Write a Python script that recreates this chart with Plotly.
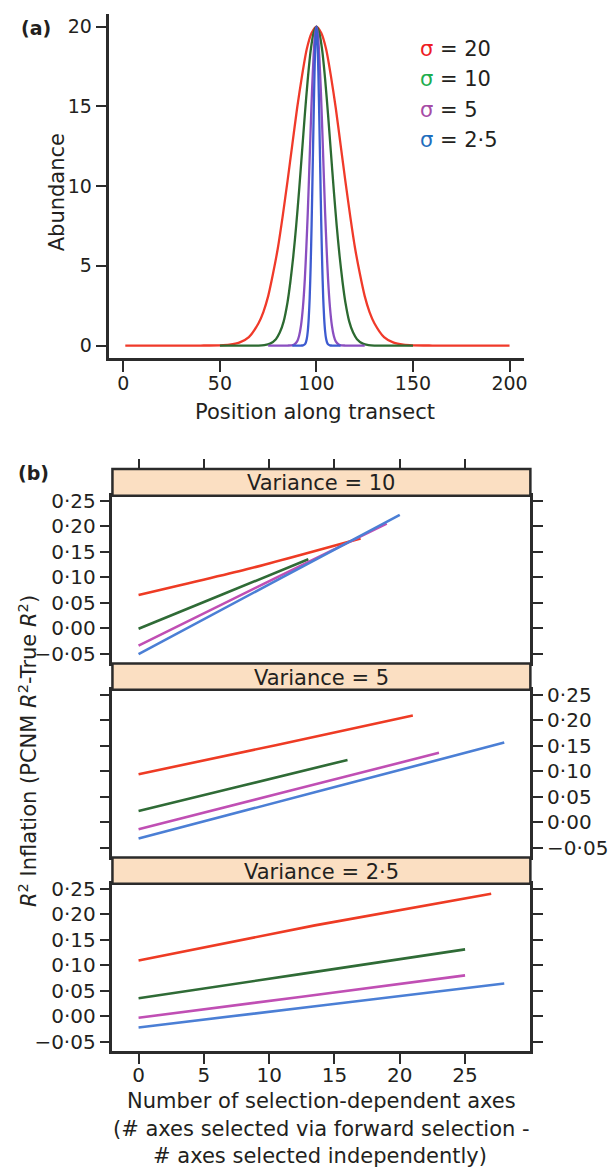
import plotly.graph_objects as go

W, H = 608, 1169
FONT = "DejaVu Sans"
TXT = "#231F20"
AX = "#2B2B2B"

# ---------------- Panel (a) data: abundance profiles (offset from centre -> abundance)
centre = 100
sigma_labels = ["20", "10", "5", "2·5"]
red_offsets = [0, 2.5, 5, 7.5, 10, 12.5, 15, 17.5, 20, 22.5, 25, 27.5, 30, 35, 40, 45, 50, 60]
red_values = [20, 19.6, 18.6, 16.9, 14.9, 12.6, 10.3, 8.1, 6.1, 4.5, 3.1, 2.1, 1.4, 0.53, 0.18, 0.05, 0.01, 0]
red_span = [1, 200]
green_offsets = [0, 1.5, 3, 4.5, 6, 7.5, 9, 10.5, 12, 13.5, 15, 17, 19, 21, 24, 27, 30]
green_values = [20, 19.6, 18.5, 16.7, 14.5, 12.1, 9.7, 7.5, 5.6, 4.0, 2.7, 1.5, 0.81, 0.40, 0.12, 0.03, 0]
green_span = [50, 150]
purple_offsets = [0, 0.75, 1.5, 2.25, 3, 3.75, 4.5, 5.25, 6, 7, 8, 9, 10, 11.5, 13, 15]
purple_values = [20, 19.5, 18.1, 16.1, 13.6, 10.9, 8.3, 6.1, 4.2, 2.4, 1.25, 0.60, 0.26, 0.07, 0.01, 0]
purple_span = [75, 125]
blue_offsets = [0, 0.5, 1, 1.5, 2, 2.5, 3, 3.5, 4, 4.5, 5, 5.5, 6, 7, 8]
blue_values = [20, 19.2, 17.1, 14.1, 10.8, 7.6, 5.0, 3.0, 1.7, 0.88, 0.42, 0.19, 0.08, 0.01, 0]
blue_span = [87.5, 112.5]

a_xticks = [0, 50, 100, 150, 200]
a_yticks = [0, 5, 10, 15, 20]

# ---------------- Panel (b) data (red, green, purple, blue): end x, start/mid/end inflation
variances = ["10", "5", "2·5"]
v10_xmax = [17, 13, 19, 20]
v10_y0 = [0.065, -0.001, -0.034, -0.051]
v10_ymid = [0.117, 0.067, 0.086, 0.086]
v10_y1 = [0.176, 0.135, 0.205, 0.222]
v5_xmax = [21, 16, 23, 28]
v5_y0 = [0.094, 0.022, -0.014, -0.032]
v5_ymid = [0.151, 0.072, 0.061, 0.062]
v5_y1 = [0.209, 0.122, 0.136, 0.156]
v25_xmax = [27, 25, 25, 28]
v25_y0 = [0.109, 0.035, -0.003, -0.022]
v25_ymid = [0.178, 0.083, 0.038, 0.021]
v25_y1 = [0.240, 0.131, 0.080, 0.064]

b_xticks = [0, 5, 10, 15, 20, 25]
b_yticks = [-0.05, 0.0, 0.05, 0.10, 0.15, 0.20, 0.25]
b_yticktext = ["\u22120·05", "0·00", "0·05", "0·10", "0·15", "0·20", "0·25"]

# colours
a_colors = ["#F03A2A", "#2C6A31", "#8A4FC0", "#3D5BD0"]
legend_colors = ["#EE1C25", "#1DAE4F", "#A64CA6", "#1F6EBD"]
b_colors = ["#EE3B24", "#2F6B36", "#C04FB4", "#4B7FD5"]
STRIP = "#FBDFC2"


def fx(px):
    return px / W


def fy(py):
    return 1 - py / H


def profile(offsets, values, span):
    xs = [span[0]] + [centre - d for d in reversed(offsets[1:])] + [centre] + [centre + d for d in offsets[1:]] + [span[1]]
    ys = [0] + list(reversed(values[1:])) + [values[0]] + list(values[1:]) + [0]
    return xs, ys


fig = go.Figure()

for (offs, vals, span), col in zip(
    [(red_offsets, red_values, red_span), (green_offsets, green_values, green_span),
     (purple_offsets, purple_values, purple_span), (blue_offsets, blue_values, blue_span)],
    a_colors,
):
    xs, ys = profile(offs, vals, span)
    fig.add_trace(go.Scatter(x=xs, y=ys, mode="lines", line=dict(color=col, width=2.3, shape="spline", smoothing=0.7),
                             xaxis="x", yaxis="y", showlegend=False, hoverinfo="skip"))

panels = [
    (v10_xmax, v10_y0, v10_ymid, v10_y1),
    (v5_xmax, v5_y0, v5_ymid, v5_y1),
    (v25_xmax, v25_y0, v25_ymid, v25_y1),
]
for i, (xmax, y0, ym, y1) in enumerate(panels):
    for j in range(4):
        fig.add_trace(go.Scatter(x=[0, xmax[j] / 2, xmax[j]], y=[y0[j], ym[j], y1[j]], mode="lines",
                                 line=dict(color=b_colors[j], width=2.6, shape="spline", smoothing=0.6),
                                 xaxis="x%d" % (i + 2), yaxis="y%d" % (i + 2), showlegend=False, hoverinfo="skip"))

# placeholder trace so the top tick axis of panel (b) is drawn
fig.add_trace(go.Scatter(x=[None], y=[None], xaxis="x5", yaxis="y2", showlegend=False, hoverinfo="skip"))

tickfont_a = dict(family=FONT, size=19, color=TXT)
tickfont_b = dict(family=FONT, size=20, color=TXT)

layout = dict(
    width=W, height=H, autosize=False,
    margin=dict(l=0, r=0, t=0, b=0),
    paper_bgcolor="white", plot_bgcolor="white",
    font=dict(family=FONT, color=TXT),
    xaxis=dict(domain=[fx(110), fx(527)], range=[-7.2, 207.7], anchor="y",
               showline=True, linecolor=AX, linewidth=2.5, ticks="outside", ticklen=11, tickwidth=2,
               tickcolor=AX, tickvals=a_xticks, tickfont=tickfont_a, ticklabelstandoff=-5,
               showgrid=False, zeroline=False),
    yaxis=dict(domain=[fy(354), fy(7)], range=[-0.8, 20.8], anchor="x",
               showline=True, linecolor=AX, linewidth=2.5, ticks="outside", ticklen=11, tickwidth=2,
               tickcolor=AX, tickvals=a_yticks, tickfont=tickfont_a, showgrid=False, zeroline=False),
)

# panel (b) vertical geometry (pixel tops/bottoms)
panel_px = [(492.5, 661.5), (688.0, 857.0), (883.5, 1052.5)]
strip_px = [(465.5, 492.5), (661.5, 688.0), (857.0, 883.5)]
b_left, b_right = 113, 533
b_yrange = [-0.069, 0.2597]

for i, (top, bot) in enumerate(panel_px):
    n = i + 2
    last = (i == 2)
    xa = dict(
        domain=[fx(b_left), fx(b_right)], range=[-2, 30], anchor="y%d" % n,
        showline=True, mirror=True, linecolor=AX, linewidth=2.5,
        ticks="outside" if last else "", ticklen=10, tickwidth=2, tickcolor=AX,
        tickvals=b_xticks, showticklabels=last, tickfont=tickfont_b,
        showgrid=False, zeroline=False)
    if last:
        xa["ticklabelstandoff"] = -6
    layout["xaxis%d" % n] = xa
    layout["yaxis%d" % n] = dict(
        domain=[fy(bot), fy(top)], range=b_yrange, anchor="x%d" % n,
        side="right" if i == 1 else "left",
        showline=True, mirror="ticks", linecolor=AX, linewidth=2.5,
        ticks="outside", ticklen=10, tickwidth=2, tickcolor=AX,
        tickvals=b_yticks, ticktext=b_yticktext, tickfont=tickfont_b,
        showgrid=False, zeroline=False)

layout["xaxis5"] = dict(overlaying="x2", side="top", anchor="free", position=fy(strip_px[0][0]),
                        range=[-2, 30], ticks="outside", ticklen=10, tickwidth=2, tickcolor=AX,
                        tickvals=b_xticks, showticklabels=False, showline=False,
                        showgrid=False, zeroline=False)

shapes = []
annotations = []
for (top, bot), var in zip(strip_px, variances):
    shapes.append(dict(type="rect", xref="paper", yref="paper",
                       x0=fx(b_left), x1=fx(b_right), y0=fy(bot), y1=fy(top),
                       fillcolor=STRIP, line=dict(color=AX, width=2.5), layer="above"))
    annotations.append(dict(text="Variance = %s" % var, xref="paper", yref="paper",
                            x=fx((b_left + b_right) / 2), y=fy((top + bot) / 2 + 1),
                            xanchor="center", yanchor="middle", showarrow=False,
                            font=dict(family=FONT, size=21, color=TXT)))

# legend of panel (a)
legend_y = [42.5, 73, 103.5, 134]
for lab, col, yy in zip(sigma_labels, legend_colors, legend_y):
    annotations.append(dict(text="<span style='color:%s'>σ</span> = %s" % (col, lab),
                            xref="paper", yref="paper", x=fx(420), y=fy(yy),
                            xanchor="left", yanchor="middle", showarrow=False,
                            font=dict(family=FONT, size=21, color=TXT)))

annotations += [
    dict(text="<b>(a)</b>", xref="paper", yref="paper", x=fx(36), y=fy(21), xanchor="center",
         yanchor="middle", showarrow=False, font=dict(family=FONT, size=19, color=TXT)),
    dict(text="<b>(b)</b>", xref="paper", yref="paper", x=fx(34), y=fy(470), xanchor="center",
         yanchor="middle", showarrow=False, font=dict(family=FONT, size=19, color=TXT)),
    dict(text="Position along transect", xref="paper", yref="paper", x=fx(317), y=fy(408),
         xanchor="center", yanchor="middle", showarrow=False, font=dict(family=FONT, size=21, color=TXT)),
    dict(text="Abundance", xref="paper", yref="paper", x=fx(57), y=fy(187), textangle=-90,
         xanchor="center", yanchor="middle", showarrow=False, font=dict(family=FONT, size=21, color=TXT)),
    dict(text="<i>R</i><sup>2</sup> Inflation (PCNM <i>R</i><sup>2</sup>-True <i>R</i><sup>2</sup>)",
         xref="paper", yref="paper", x=fx(28), y=fy(750), textangle=-90,
         xanchor="center", yanchor="middle", showarrow=False, font=dict(family=FONT, size=21, color=TXT)),
    dict(text="Number of selection-dependent axes", xref="paper", yref="paper", x=fx(323), y=fy(1102),
         xanchor="center", yanchor="middle", showarrow=False, font=dict(family=FONT, size=21, color=TXT)),
    dict(text="(# axes selected via forward selection -", xref="paper", yref="paper", x=fx(323), y=fy(1131),
         xanchor="center", yanchor="middle", showarrow=False, font=dict(family=FONT, size=21, color=TXT)),
    dict(text="# axes selected independently)", xref="paper", yref="paper", x=fx(322), y=fy(1158),
         xanchor="center", yanchor="middle", showarrow=False, font=dict(family=FONT, size=21, color=TXT)),
]

layout["shapes"] = shapes
layout["annotations"] = annotations
fig.update_layout(**layout)

fig.write_html("out.html", include_plotlyjs=True, config={"displayModeBar": False})
